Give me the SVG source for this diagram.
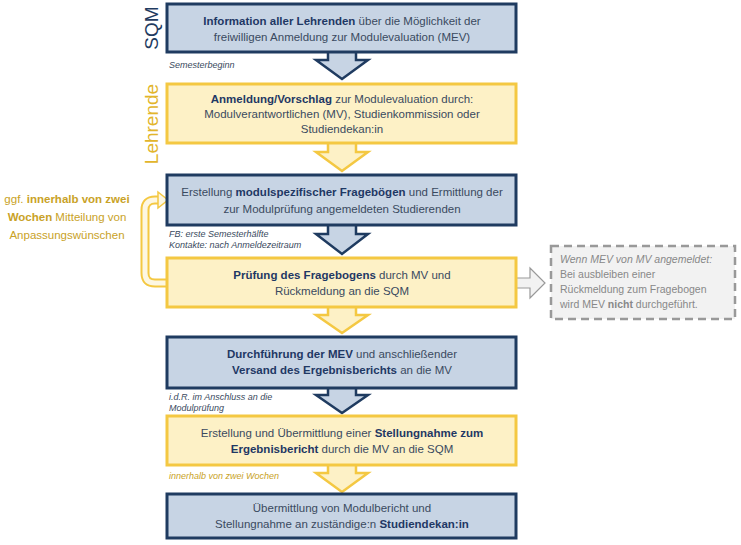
<svg xmlns="http://www.w3.org/2000/svg" width="741" height="545" viewBox="0 0 741 545">
<style>
.b{fill:#c7d4e4;stroke:#1f3b60;stroke-width:3}
.y{fill:#fdf1c6;stroke:#f4c842;stroke-width:3}
.ab{fill:#c7d4e4;stroke:#1f3b60;stroke-width:2.5;stroke-linejoin:miter}
.ay{fill:#fdf1c6;stroke:#f4c842;stroke-width:2.5}
text{font-family:"Liberation Sans",Arial,sans-serif}
.t{font-size:11.5px;fill:#3a4a60;text-anchor:middle}
.t tspan.k{font-weight:bold;fill:#1f3864}
.s{font-size:9px;font-style:italic;fill:#3a4a60}
</style>
<g id="connectors">
<path class="ab" d="M328,52 V60 H316 L342,79 L368,60 H356 V52"/>
<path class="ay" d="M328,143 V152 H316 L342,171 L368,152 H356 V143"/>
<path class="ab" d="M328,225 V234 H316 L342,254 L368,234 H356 V225"/>
<path class="ay" d="M328,307 V315 H316 L342,333 L368,315 H356 V307"/>
<path class="ab" d="M328,388 V395 H316 L342,413 L368,395 H356 V388"/>
<path class="ay" d="M328,465 V473 H316 L342,492 L368,473 H356 V465"/>
<path d="M167,283 H155 Q145,283 145,273 V210 Q145,200 155,200 H160" fill="none" stroke="#f4c842" stroke-width="9"/>
<path d="M167,283 H155 Q145,283 145,273 V210 Q145,200 155,200 H160" fill="none" stroke="#fdf7e2" stroke-width="5"/>
<path d="M158,192 L168,200 L158,208 Z" fill="#fdf7e2" stroke="#f4c842" stroke-width="1.5"/>
<path d="M517,278 H530 V268 L545,283 L530,298 V288 H517" fill="#f2f2f2" stroke="#999" stroke-width="1.2"/>
</g>
<text x="158" y="28" transform="rotate(-90 158 28)" font-size="19" fill="#1f3b60" text-anchor="middle">SQM</text>
<text x="158" y="124" transform="rotate(-90 158 124)" font-size="19" fill="#e2b52c" text-anchor="middle">Lehrende</text>
<g id="n1"><rect class="b" x="167" y="4" width="349" height="48"/>
<text class="t" x="342" y="25"><tspan class="k">Information aller Lehrenden</tspan> über die Möglichkeit der</text>
<text class="t" x="342" y="41">freiwilligen Anmeldung zur Modulevaluation (MEV)</text></g>
<text class="s" x="169" y="68">Semesterbeginn</text>
<g id="n2"><rect class="y" x="167" y="84" width="349" height="59"/>
<text class="t" x="342" y="103"><tspan class="k">Anmeldung/Vorschlag</tspan> zur Modulevaluation durch:</text>
<text class="t" x="342" y="118">Modulverantwortlichen (MV), Studienkommission oder</text>
<text class="t" x="342" y="133">Studiendekan:in</text></g>
<g id="n3"><rect class="b" x="167" y="175" width="349" height="50"/>
<text class="t" x="342" y="196">Erstellung <tspan class="k">modulspezifischer Fragebögen</tspan> und Ermittlung der</text>
<text class="t" x="342" y="213">zur Modulprüfung angemeldeten Studierenden</text></g>
<text class="s" x="169" y="237">FB: erste Semesterhälfte</text>
<text class="s" x="169" y="248">Kontakte: nach Anmeldezeitraum</text>
<g id="n4"><rect class="y" x="167" y="258" width="349" height="49"/>
<text class="t" x="342" y="279"><tspan class="k">Prüfung des Fragebogens</tspan> durch MV und</text>
<text class="t" x="342" y="295">Rückmeldung an die SQM</text></g>
<g id="n5"><rect class="b" x="167" y="337" width="349" height="51"/>
<text class="t" x="342" y="358"><tspan class="k">Durchführung der MEV</tspan> und anschließender</text>
<text class="t" x="342" y="374"><tspan class="k">Versand des Ergebnisberichts</tspan> an die MV</text></g>
<text class="s" x="169" y="400">i.d.R. im Anschluss an die</text>
<text class="s" x="169" y="411">Modulprüfung</text>
<g id="n6"><rect class="y" x="167" y="416" width="349" height="49"/>
<text class="t" x="342" y="437">Erstellung und Übermittlung einer <tspan class="k">Stellungnahme zum</tspan></text>
<text class="t" x="342" y="453"><tspan class="k">Ergebnisbericht</tspan> durch die MV an die SQM</text></g>
<text class="s" x="169" y="479" style="fill:#c9a227">innerhalb von zwei Wochen</text>
<g id="n7"><rect class="b" x="167" y="494" width="349" height="44"/>
<text class="t" x="342" y="512">Übermittlung von Modulbericht und</text>
<text class="t" x="342" y="528">Stellungnahme an zuständige:n <tspan class="k">Studiendekan:in</tspan></text></g>
<g id="note"><text x="67" y="203" font-size="11.5" fill="#c9a227" text-anchor="middle">ggf. <tspan font-weight="bold">innerhalb von zwei</tspan></text>
<text x="67" y="221" font-size="11.5" fill="#c9a227" text-anchor="middle"><tspan font-weight="bold">Wochen</tspan> Mitteilung von</text>
<text x="67" y="239" font-size="11.5" fill="#c9a227" text-anchor="middle">Anpassungswünschen</text></g>
<g id="side"><rect x="551" y="246" width="184" height="73" fill="#f2f2f2" stroke="#999" stroke-width="2.5" stroke-dasharray="8,5"/>
<text x="560" y="263" font-size="10.5" fill="#888" font-style="italic">Wenn MEV von MV angemeldet:</text>
<text x="560" y="278" font-size="10.5" fill="#888">Bei ausbleiben einer</text>
<text x="560" y="293" font-size="10.5" fill="#888">Rückmeldung zum Fragebogen</text>
<text x="560" y="308" font-size="10.5" fill="#888">wird MEV <tspan font-weight="bold">nicht</tspan> durchgeführt.</text></g>
</svg>
